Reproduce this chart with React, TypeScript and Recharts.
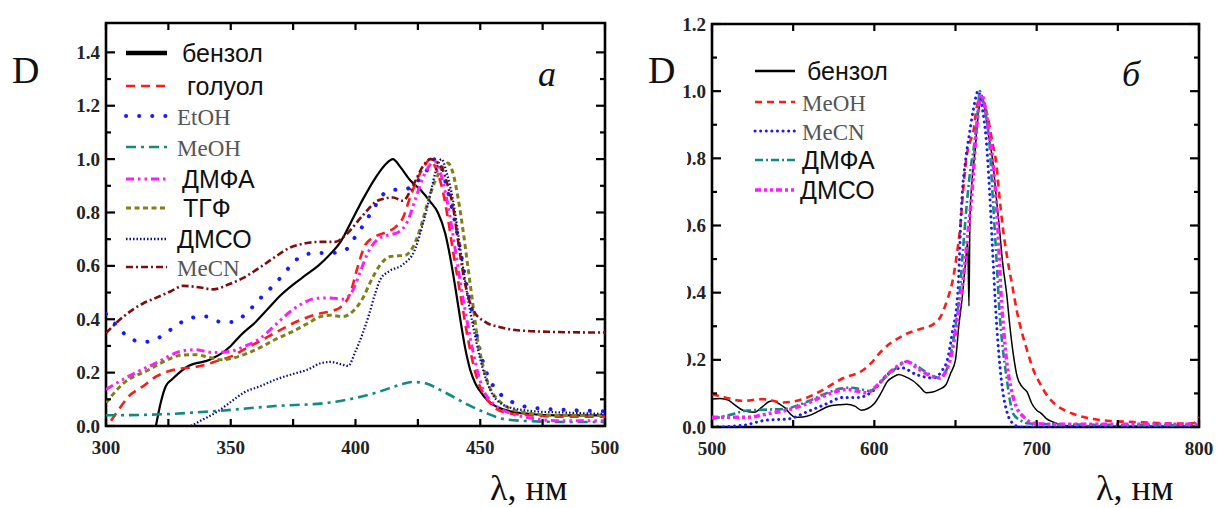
import React from 'react';
import { LineChart, Line, XAxis, YAxis, ReferenceArea, Legend } from 'recharts';

type Pt = [number, number];

// ---------- Panel а: spectra in eight solvents, 300–500 nm ----------
const NAMES_A = ['бензол', 'голуол', 'EtOH', 'MeOH', 'ДМФА', 'ТГФ', 'ДМСО', 'MeCN'];

const BENZENE_A: Pt[] = [
  [320, 0], [322, 0.09], [324, 0.15], [326.5, 0.175], [330, 0.205], [333, 0.225], [336, 0.235],
  [340, 0.243], [343, 0.255], [346, 0.27], [350, 0.3], [354, 0.34], [360, 0.39], [365, 0.44],
  [370, 0.49], [375, 0.53], [380, 0.565], [385, 0.6], [390, 0.645], [394, 0.69], [398, 0.76],
  [403, 0.85], [408, 0.93], [412, 0.98], [415, 1.0], [418, 0.97], [422, 0.92], [426, 0.885],
  [430, 0.84], [433, 0.8], [436, 0.72], [438, 0.63], [440, 0.52], [442, 0.4], [444, 0.29],
  [446, 0.21], [448, 0.16], [450, 0.13], [453, 0.095], [457, 0.07], [462, 0.055], [470, 0.045],
  [480, 0.04], [490, 0.04], [500, 0.04],
];
const TOLUENE_A: Pt[] = [
  [302, 0.02], [305, 0.06], [309, 0.11], [315, 0.15], [320, 0.185], [325, 0.205], [330, 0.215],
  [335, 0.22], [340, 0.23], [345, 0.245], [350, 0.26], [355, 0.285], [360, 0.31], [365, 0.335],
  [370, 0.36], [375, 0.385], [380, 0.405], [385, 0.42], [390, 0.43], [394, 0.445], [398, 0.5],
  [401, 0.6], [404, 0.68], [408, 0.71], [412, 0.725], [416, 0.745], [419, 0.78], [422, 0.86],
  [425, 0.93], [428, 0.98], [430, 1.0], [432, 0.97], [435, 0.88], [437, 0.78], [439, 0.66],
  [441, 0.55], [443, 0.44], [445, 0.33], [447, 0.24], [449, 0.17], [452, 0.11], [455, 0.075],
  [460, 0.05], [470, 0.04], [480, 0.035], [490, 0.035], [500, 0.035],
];
const ETOH_A: Pt[] = [
  [300, 0.42], [305, 0.37], [310, 0.325], [316, 0.315], [322, 0.335], [328, 0.375], [334, 0.405],
  [340, 0.41], [346, 0.39], [351, 0.39], [357, 0.43], [362, 0.48], [368, 0.535], [374, 0.6],
  [378, 0.635], [384, 0.648], [390, 0.648], [396, 0.66], [400, 0.71], [404, 0.765], [408, 0.826],
  [412, 0.875], [416, 0.885], [420, 0.887], [424, 0.91], [428, 0.95], [432, 1.0], [435, 0.95],
  [437, 0.88], [440, 0.76], [442, 0.66], [444.5, 0.53], [447, 0.42], [449, 0.32], [452.5, 0.2],
  [456, 0.14], [461, 0.1], [467, 0.075], [475, 0.065], [485, 0.06], [500, 0.055],
];
const MEOH_A: Pt[] = [
  [300, 0.04], [320, 0.043], [344, 0.056], [368, 0.075], [389, 0.087], [400, 0.105], [410, 0.13],
  [418, 0.155], [423, 0.165], [428, 0.16], [435, 0.13], [445, 0.08], [452, 0.05], [460, 0.025],
  [470, 0.018], [485, 0.015], [500, 0.015],
];
const DMFA_A: Pt[] = [
  [300, 0.137], [309, 0.186], [320, 0.236], [330, 0.28], [336, 0.286], [343, 0.275], [350, 0.28],
  [356, 0.3], [362, 0.33], [368, 0.38], [374, 0.43], [378, 0.455], [384, 0.478], [390, 0.48],
  [395, 0.475], [399, 0.51], [402, 0.58], [405, 0.65], [409, 0.7], [413, 0.715], [417, 0.725],
  [421, 0.77], [424, 0.85], [427, 0.93], [430, 0.98], [432, 0.99], [434, 0.95], [437, 0.83],
  [440, 0.66], [442, 0.54], [444, 0.43], [446, 0.33], [448.5, 0.22], [451, 0.14], [454, 0.095],
  [458, 0.065], [463, 0.045], [470, 0.03], [480, 0.02], [490, 0.02], [500, 0.02],
];
const THF_A: Pt[] = [
  [300, 0.087], [307, 0.16], [317, 0.21], [324, 0.245], [330, 0.265], [336, 0.267], [341, 0.258],
  [346, 0.248], [351, 0.255], [356, 0.27], [362, 0.295], [368, 0.325], [375, 0.355], [381, 0.385],
  [386, 0.41], [390, 0.415], [395, 0.41], [399, 0.43], [403, 0.48], [406, 0.54], [410, 0.605],
  [414, 0.635], [420, 0.64], [423, 0.67], [426, 0.74], [429, 0.84], [432, 0.92], [435, 0.97],
  [437, 0.985], [439, 0.95], [441, 0.86], [443, 0.74], [445, 0.6], [447, 0.46], [449, 0.32],
  [451, 0.23], [454, 0.14], [457, 0.1], [461, 0.07], [468, 0.05], [480, 0.04], [500, 0.04],
];
const DMSO_A: Pt[] = [
  [334, 0], [339, 0.025], [344, 0.05], [350, 0.09], [355, 0.124], [362, 0.15], [368, 0.174],
  [375, 0.195], [381, 0.212], [386, 0.235], [390, 0.24], [394, 0.232], [397, 0.225], [400, 0.28],
  [403, 0.35], [405.5, 0.42], [408, 0.5], [410, 0.55], [413.5, 0.58], [419, 0.605], [424, 0.665],
  [426.5, 0.74], [428.5, 0.81], [430.5, 0.89], [432, 0.95], [434.5, 1.0], [436.5, 0.95],
  [439, 0.85], [441, 0.73], [443, 0.6], [445, 0.48], [447, 0.38], [450, 0.25], [452.5, 0.17],
  [455.5, 0.11], [459, 0.08], [464, 0.065], [472, 0.055], [485, 0.05], [500, 0.045],
];
const MECN_A: Pt[] = [
  [300, 0.348], [307, 0.41], [315, 0.46], [320, 0.48], [326, 0.505], [331, 0.525], [337, 0.52],
  [343, 0.512], [349, 0.53], [355, 0.555], [362, 0.596], [368, 0.635], [373, 0.665], [380, 0.685],
  [386, 0.69], [392, 0.69], [396, 0.715], [403, 0.79], [409, 0.845], [415, 0.856], [419, 0.844],
  [423, 0.9], [427, 0.973], [430, 1.0], [433, 0.985], [435, 0.96], [437, 0.9], [439, 0.826],
  [441, 0.7], [443, 0.58], [445, 0.49], [447.5, 0.43], [452, 0.39], [458, 0.37], [464, 0.36],
  [477, 0.353], [500, 0.35],
];
const SERIES_A = [BENZENE_A, TOLUENE_A, ETOH_A, MEOH_A, DMFA_A, THF_A, DMSO_A, MECN_A];

const X_TICKS_A = [300, 325, 350, 375, 400, 425, 450, 475, 500];
const Y_TICKS_A = [0, 0.1, 0.2, 0.3, 0.4, 0.5, 0.6, 0.7, 0.8, 0.9, 1.0, 1.1, 1.2, 1.3, 1.4];

// ---------- Panel б: spectra in five solvents, 500–800 nm ----------
const NAMES_B = ['бензол', 'MeOH', 'MeCN', 'ДМФА', 'ДМСО'];

const BENZENE_B: Pt[] = [
  [500, 0.083], [505, 0.085], [510, 0.08], [514, 0.066], [519, 0.05], [526, 0.044], [531, 0.06],
  [535, 0.075], [538, 0.078], [541, 0.07], [545, 0.057], [548, 0.04], [551, 0.029], [556, 0.03],
  [561, 0.036], [566, 0.048], [572, 0.062], [578, 0.066], [583, 0.068], [588, 0.062], [592, 0.05],
  [596, 0.055], [600, 0.07], [604, 0.1], [608, 0.135], [612, 0.15], [615, 0.156], [619, 0.15],
  [624, 0.137], [628, 0.12], [632, 0.102], [636, 0.104], [640, 0.112], [644, 0.125], [647, 0.16],
  [650, 0.2], [652, 0.3], [654, 0.38], [656, 0.48], [657.5, 0.55], [658.3, 0.36], [658.9, 0.62],
  [660, 0.72], [662, 0.82], [664, 0.93], [666, 0.98], [668, 0.95], [670, 0.88], [673, 0.79],
  [675, 0.69], [677, 0.595], [679, 0.49], [681.5, 0.397], [683.5, 0.3], [685.5, 0.22], [688, 0.15],
  [691, 0.12], [694, 0.105], [697, 0.07], [700, 0.05], [703, 0.04], [706, 0.025], [710, 0.015],
  [714, 0.008], [720, 0.003], [740, 0.002], [800, 0.002],
];
const MEOH_B: Pt[] = [
  [500, 0.098], [508, 0.088], [519, 0.078], [531, 0.083], [544, 0.073], [556, 0.083], [567, 0.107],
  [581, 0.146], [592, 0.166], [598, 0.19], [604, 0.224], [610, 0.25], [615, 0.265], [621, 0.28],
  [627, 0.29], [636, 0.305], [641, 0.33], [645, 0.38], [648, 0.43], [651, 0.52], [653, 0.6],
  [655, 0.72], [657, 0.81], [659, 0.85], [661, 0.88], [663, 0.95], [665, 0.98], [667, 0.97],
  [670, 0.92], [673, 0.84], [675, 0.79], [677, 0.69], [679, 0.6], [682, 0.5], [685, 0.42],
  [688, 0.34], [691, 0.28], [694, 0.23], [698, 0.17], [702, 0.13], [707, 0.09], [712, 0.065],
  [718, 0.048], [725, 0.035], [735, 0.024], [745, 0.018], [760, 0.015], [775, 0.012], [790, 0.01],
  [797, 0.012], [800, 0.03],
];
const MECN_B: Pt[] = [
  [500, 0], [519, 0.005], [533, 0.02], [547, 0.024], [558, 0.044], [570, 0.068], [581, 0.088],
  [590, 0.088], [599, 0.107], [608, 0.156], [617, 0.176], [626, 0.156], [636, 0.146], [642, 0.17],
  [645, 0.2], [648, 0.28], [651.5, 0.404], [653.6, 0.65], [656.7, 0.813], [658.5, 0.87],
  [660.8, 0.94], [664, 1.0], [666.5, 0.95], [669, 0.85], [671, 0.7], [673, 0.51], [675, 0.33],
  [677, 0.2], [679, 0.11], [681.4, 0.05], [685.5, 0.01], [690, 0], [800, 0],
];
const DMFA_B: Pt[] = [
  [500, 0.024], [510, 0.035], [522, 0.049], [535, 0.052], [545, 0.054], [553, 0.065], [560, 0.078],
  [567, 0.093], [574, 0.107], [580, 0.115], [586, 0.117], [592, 0.112], [597, 0.107], [604, 0.135],
  [611, 0.166], [616, 0.185], [620, 0.195], [625, 0.185], [631, 0.166], [636, 0.152], [640, 0.146],
  [644, 0.165], [647, 0.215], [650, 0.3], [652.6, 0.4], [654.5, 0.52], [656.7, 0.65], [659, 0.76],
  [661.8, 0.85], [663.5, 0.93], [665, 1.0], [667, 0.97], [669, 0.92], [671, 0.84], [672.5, 0.72],
  [674, 0.6], [675.5, 0.48], [677, 0.35], [679, 0.24], [681.4, 0.15], [683.5, 0.08], [685.5, 0.04],
  [690, 0.02], [694, 0.011], [710, 0.008], [800, 0.005],
];
const DMSO_B: Pt[] = [
  [500, 0.029], [510, 0.029], [522, 0.029], [535, 0.04], [545, 0.049], [553, 0.06], [560, 0.073],
  [567, 0.088], [574, 0.102], [580, 0.11], [583, 0.112], [589, 0.107], [595, 0.102], [602, 0.125],
  [608, 0.156], [614, 0.18], [620, 0.195], [625, 0.18], [631, 0.161], [636, 0.15], [640, 0.146],
  [644, 0.165], [647, 0.205], [650, 0.28], [653, 0.38], [655, 0.45], [657.5, 0.57], [660, 0.69],
  [663, 0.89], [666, 0.99], [668, 0.96], [670, 0.9], [673, 0.79], [676, 0.6], [678, 0.4],
  [679.5, 0.3], [681.4, 0.2], [684, 0.12], [687.5, 0.06], [692, 0.03], [698, 0.011], [710, 0.008],
  [800, 0.008],
];
const SERIES_B = [BENZENE_B, MEOH_B, MECN_B, DMFA_B, DMSO_B];

const X_TICKS_B = [500, 550, 600, 650, 700, 750, 800];
const Y_TICKS_B = [0, 0.1, 0.2, 0.3, 0.4, 0.5, 0.6, 0.7, 0.8, 0.9, 1.0, 1.1, 1.2];

// ---------- styling ----------
const SERIF = '"Liberation Serif", "Times New Roman", serif';
const SANS = '"Liberation Sans", Arial, sans-serif';

type LineStyle = { color: string; dash?: string; width: number; cap?: 'round' | 'butt'; serifLabel?: boolean };

const STYLE_A: LineStyle[] = [
  { color: '#000000', width: 2.2 },
  { color: '#ff1a1a', dash: '9 6', width: 2.6 },
  { color: '#1a1aff', dash: '0.1 13', width: 4, cap: 'round', serifLabel: true },
  { color: '#118a80', dash: '10 5 3 5', width: 2.6, serifLabel: true },
  { color: '#ff1aff', dash: '8 4 2.5 4 2.5 4', width: 3 },
  { color: '#80801a', dash: '5 3.5', width: 3 },
  { color: '#0a0a8c', dash: '1.5 2', width: 2.2 },
  { color: '#800d0d', dash: '7 3 2 3', width: 2.6, serifLabel: true },
];
const STYLE_B: LineStyle[] = [
  { color: '#000000', width: 1.5 },
  { color: '#ff1a1a', dash: '7 5', width: 2.6, serifLabel: true },
  { color: '#1a1aff', dash: '0.1 5.5', width: 3, cap: 'round', serifLabel: true },
  { color: '#118a80', dash: '8 3 2 3', width: 2.6 },
  { color: '#ff1aff', dash: '6 3 3 3 3 3', width: 3.5 },
];

// chart boxes and plot areas (local to each chart)
const BOX_A = { w: 640, h: 508, left: 106, top: 23, right: 605, bottom: 426 };
const BOX_B = { x0: 640, w: 577, h: 508, left: 72, top: 24, right: 559, bottom: 427 };
const AXIS_W = 1; // axes keep a 1px footprint so that their ticks are drawn

const tickFont: React.CSSProperties = { fontFamily: SERIF, fontWeight: 700, fontSize: 19, fill: '#222' };

const toRows = (pts: Pt[]) => pts.map(([x, y]) => ({ x, y }));

function makeXTick(box: { top: number; bottom: number }, labelStep: number) {
  return (props: any) => {
    const { x, payload } = props;
    const v = payload.value as number;
    const labelled = Math.abs(v / labelStep - Math.round(v / labelStep)) < 1e-6;
    return (
      <g>
        <line x1={x} x2={x} y1={box.bottom} y2={box.bottom - 7} stroke="#000" strokeWidth={2.2} />
        <line x1={x} x2={x} y1={box.top} y2={box.top + 7} stroke="#000" strokeWidth={2.2} />
        {labelled && (
          <text x={x} y={box.bottom + 28} textAnchor="middle" style={tickFont}>
            {v}
          </text>
        )}
      </g>
    );
  };
}

function makeYTick(box: { left: number; right: number }, labelStep: number) {
  return (props: any) => {
    const { y, payload } = props;
    const v = payload.value as number;
    const r = v / labelStep;
    const labelled = Math.abs(r - Math.round(r)) < 1e-6;
    const len = labelled ? 9 : 5;
    return (
      <g>
        <line x1={box.left} x2={box.left + len} y1={y} y2={y} stroke="#000" strokeWidth={2.2} />
        <line x1={box.right} x2={box.right - len} y1={y} y2={y} stroke="#000" strokeWidth={2.2} />
        {labelled && (
          <text x={box.left - 6} y={y + 6.5} textAnchor="end" style={tickFont}>
            {v.toFixed(1)}
          </text>
        )}
      </g>
    );
  };
}

type LegendLayout = { lineX1: number; lineX2: number; rowY: number[]; textX: number[]; w: number; h: number };

function LegendBlock({ names, styles, layout, thickFirst }: { names: string[]; styles: LineStyle[]; layout: LegendLayout; thickFirst?: boolean }) {
  return (
    <svg width={layout.w} height={layout.h} style={{ display: 'block', overflow: 'visible' }}>
      {names.map((name, i) => {
        const s = styles[i];
        const y = layout.rowY[i];
        return (
          <g key={name}>
            <line
              x1={layout.lineX1}
              x2={layout.lineX2}
              y1={y}
              y2={y}
              stroke={s.color}
              strokeWidth={i === 0 && thickFirst ? 4.5 : Math.max(s.width, 2.4)}
              strokeDasharray={s.dash}
              strokeLinecap={s.cap ?? 'butt'}
            />
            <text
              x={layout.textX[i]}
              y={y + 9}
              style={{
                fontFamily: s.serifLabel ? SERIF : SANS,
                fontSize: s.serifLabel ? 23 : 25,
                fill: s.serifLabel ? '#555' : '#111',
              }}
            >
              {name}
            </text>
          </g>
        );
      })}
    </svg>
  );
}

const LEGEND_A: LegendLayout = {
  lineX1: 126, lineX2: 167,
  rowY: [53, 86, 116, 147, 179, 208, 239, 267],
  textX: [182, 187, 177, 177, 182, 183, 177, 177],
  w: 320, h: 290,
};
const LEGEND_B: LegendLayout = {
  lineX1: 755 - 640, lineX2: 795 - 640,
  rowY: [71, 102, 131, 160, 190],
  textX: [807 - 640, 802 - 640, 802 - 640, 802 - 640, 800 - 640],
  w: 320, h: 210,
};

function Panel({
  series, names, styles, box, xDomain, yDomain, xTicks, yTicks, xLabelStep, legend, thickFirst,
}: {
  series: Pt[][]; names: string[]; styles: LineStyle[];
  box: { w: number; h: number; left: number; top: number; right: number; bottom: number };
  xDomain: [number, number]; yDomain: [number, number]; xTicks: number[]; yTicks: number[];
  xLabelStep: number; legend: LegendLayout; thickFirst?: boolean;
}) {
  return (
    <LineChart
      width={box.w}
      height={box.h}
      margin={{
        left: box.left - AXIS_W,
        top: box.top,
        right: box.w - box.right,
        bottom: box.h - box.bottom - AXIS_W,
      }}
    >
      <XAxis
        dataKey="x"
        type="number"
        domain={xDomain}
        ticks={xTicks}
        interval={0}
        allowDataOverflow
        height={AXIS_W}
        tickSize={0}
        tickMargin={0}
        axisLine={false}
        tickLine={false}
        tick={makeXTick(box, xLabelStep)}
      />
      <YAxis
        type="number"
        domain={yDomain}
        ticks={yTicks}
        interval={0}
        allowDataOverflow
        width={AXIS_W}
        tickSize={0}
        tickMargin={0}
        axisLine={false}
        tickLine={false}
        tick={makeYTick(box, 0.2)}
      />
      {series.map((pts, i) => (
        <Line
          key={names[i]}
          data={toRows(pts)}
          dataKey="y"
          name={names[i]}
          type="monotone"
          stroke={styles[i].color}
          strokeWidth={styles[i].width}
          strokeDasharray={styles[i].dash}
          strokeLinecap={styles[i].cap ?? 'butt'}
          dot={false}
          activeDot={false}
          isAnimationActive={false}
        />
      ))}
      <ReferenceArea
        x1={xDomain[0]}
        x2={xDomain[1]}
        y1={yDomain[0]}
        y2={yDomain[1]}
        fill="none"
        fillOpacity={0}
        stroke="#000"
        strokeWidth={2.6}
      />
      <Legend
        layout="horizontal"
        verticalAlign="middle"
        align="center"
        wrapperStyle={{ position: 'absolute', left: 0, top: 0, width: legend.w, height: legend.h }}
        content={() => <LegendBlock names={names} styles={styles} layout={legend} thickFirst={thickFirst} />}
      />
    </LineChart>
  );
}

export default function App() {
  return (
    <div style={{ position: 'absolute', left: 0, top: 0, width: 1217, height: 508, background: '#fff', overflow: 'hidden' }}>
      <div style={{ position: 'absolute', left: 0, top: 0 }}>
        <Panel
          series={SERIES_A}
          names={NAMES_A}
          styles={STYLE_A}
          box={BOX_A}
          xDomain={[300, 500]}
          yDomain={[0, 1.51]}
          xTicks={X_TICKS_A}
          yTicks={Y_TICKS_A}
          xLabelStep={50}
          legend={LEGEND_A}
          thickFirst
        />
      </div>
      <div style={{ position: 'absolute', left: BOX_B.x0, top: 0 }}>
        <Panel
          series={SERIES_B}
          names={NAMES_B}
          styles={STYLE_B}
          box={BOX_B}
          xDomain={[500, 800]}
          yDomain={[0, 1.2]}
          xTicks={X_TICKS_B}
          yTicks={Y_TICKS_B}
          xLabelStep={100}
          legend={LEGEND_B}
        />
      </div>
      <svg width={1217} height={508} style={{ position: 'absolute', left: 0, top: 0, pointerEvents: 'none' }}>
        {/* white strip over the inner y labels of panel б */}
        <rect x={668} y={118} width={19} height={280} fill="#fff" />
        <text x={12} y={83} style={{ fontFamily: SERIF, fontSize: 38, fill: '#111' }}>D</text>
        <text x={648} y={83} style={{ fontFamily: SERIF, fontSize: 38, fill: '#111' }}>D</text>
        <text x={538} y={86} style={{ fontFamily: SERIF, fontStyle: 'italic', fontSize: 36, fill: '#111' }}>a</text>
        <text x={1122} y={86} style={{ fontFamily: SERIF, fontStyle: 'italic', fontSize: 36, fill: '#111' }}>б</text>
        <text x={490} y={500} style={{ fontFamily: SERIF, fontSize: 36, fill: '#111' }}>λ, нм</text>
        <text x={1096} y={500} style={{ fontFamily: SERIF, fontSize: 36, fill: '#111' }}>λ, нм</text>
      </svg>
    </div>
  );
}
